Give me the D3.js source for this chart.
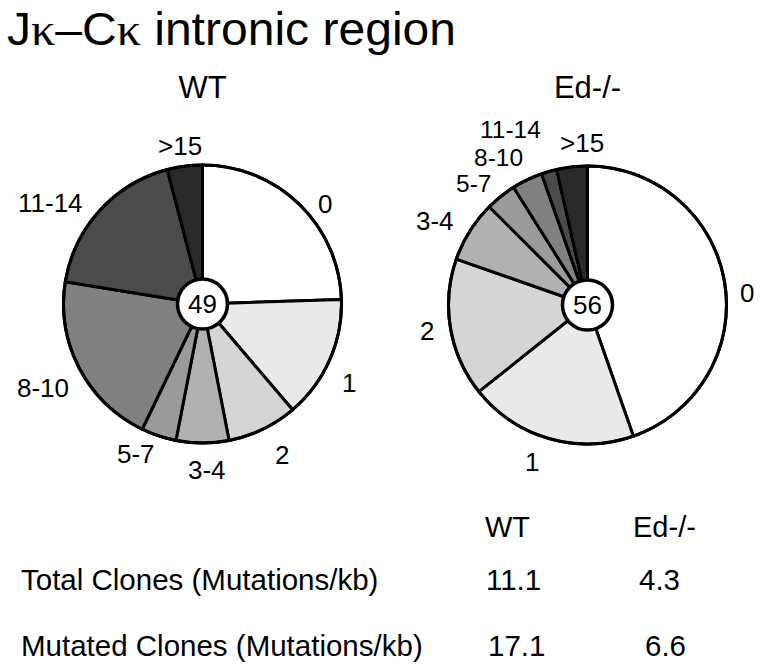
<!DOCTYPE html>
<html>
<head>
<meta charset="utf-8">
<script src="https://cdn.jsdelivr.net/npm/d3@7"></script>
<style>
  body { margin: 0; background: #fff; }
  text { font-family: "Liberation Sans", Arial, sans-serif; fill: #000; }
</style>
</head>
<body>
<script>
var categories = ['0', '1', '2', '3-4', '5-7', '8-10', '11-14', '>15'];
var wtCounts = [12, 7, 4, 3, 2, 10, 9, 2];
var edCounts = [25, 11, 9, 4, 2, 2, 1, 2];
var groupNames = ['WT', 'Ed-/-'];
var rowLabels = ['Total Clones (Mutations/kb)', 'Mutated Clones (Mutations/kb)'];
var wtRates = ['11.1', '17.1'];
var edRates = ['4.3', '6.6'];

var shades = ['#ffffff', '#e9e9e9', '#d5d5d5', '#b1b1b1', '#9a9a9a', '#808080', '#4b4b4b', '#292929'];

var w = 760;
var h = 669;
var r = 139;

// label spots (x, baseline) for each slice, per pie
var wtLabelPos = [[318, 213], [342, 392], [275, 464], [188, 479], [117, 463], [17, 397], [18, 212], [158, 155]];
var edLabelPos = [[740, 302], [525, 471], [420, 340], [416, 230], [456, 192], [474, 166], [480, 138], [560, 152]];

var svg = d3.select("body")
    .append("svg")
    .attr("width", w)
    .attr("height", h);

var title = svg.append("text")
    .attr("x", 7)
    .attr("y", 45)
    .attr("font-size", "46px")
    .attr("textLength", 449)
    .attr("lengthAdjust", "spacingAndGlyphs");
title.append("tspan").text("J");
title.append("tspan").attr("font-family", "Liberation Serif").text("\u03ba");
title.append("tspan").text("\u2013C");
title.append("tspan").attr("font-family", "Liberation Serif").text("\u03ba");
title.append("tspan").text(" intronic region");

var color = d3.scaleOrdinal()
    .domain(categories)
    .range(shades);

var pie = d3.pie()
    .sort(null)
    .value(function(d) { return d; });

var arc = d3.arc()
    .innerRadius(0)
    .outerRadius(r);

function drawPie(counts, cx, cy, name, labelPos, labelSize) {
    var g = svg.append("g")
        .attr("transform", "translate(" + cx + "," + cy + ")");

    g.selectAll("path")
       .data(pie(counts))
       .enter()
       .append("path")
       .attr("d", arc)
       .attr("fill", function(d, i) { return color(categories[i]); })
       .attr("stroke", "#000")
       .attr("stroke-width", 3)
       .attr("stroke-linejoin", "round");

    g.append("circle")
       .attr("r", r)
       .attr("fill", "none")
       .attr("stroke", "#000")
       .attr("stroke-width", 3);

    g.append("circle")
       .attr("r", 25)
       .attr("fill", "#fff")
       .attr("stroke", "#000")
       .attr("stroke-width", 3.5);

    g.append("text")
       .attr("text-anchor", "middle")
       .attr("y", 9)
       .attr("font-size", "26px")
       .text(d3.sum(counts));

    svg.append("text")
       .attr("text-anchor", "middle")
       .attr("x", cx)
       .attr("y", 98)
       .attr("font-size", "31px")
       .text(name);

    svg.selectAll(null)
       .data(categories)
       .enter()
       .append("text")
       .attr("x", function(d, i) { return labelPos[i][0]; })
       .attr("y", function(d, i) { return labelPos[i][1]; })
       .attr("font-size", function(d, i) { return labelSize(i) + "px"; })
       .text(function(d) { return d; });
}

drawPie(wtCounts, 202.5, 304, groupNames[0], wtLabelPos, function() { return 26; });
// the stacked small-slice labels on Ed-/- sit very close, so a touch smaller
drawPie(edCounts, 587.5, 305, groupNames[1], edLabelPos, function(i) { return (i >= 4 && i <= 6) ? 24.5 : 26; });

// table under the pies
var rowY = [590, 656];

svg.append("text")
   .attr("x", 485).attr("y", 537)
   .attr("font-size", "29px")
   .text(groupNames[0]);
svg.append("text")
   .attr("x", 633).attr("y", 537)
   .attr("font-size", "29px")
   .text(groupNames[1]);

svg.selectAll(null)
   .data(rowLabels)
   .enter()
   .append("text")
   .attr("x", 21)
   .attr("y", function(d, i) { return rowY[i]; })
   .attr("font-size", "29.5px")
   .text(function(d) { return d; });

svg.selectAll(null)
   .data(wtRates)
   .enter()
   .append("text")
   .attr("x", function(d, i) { return [486, 488][i]; })
   .attr("y", function(d, i) { return rowY[i]; })
   .attr("font-size", "29.5px")
   .text(function(d) { return d; });

svg.selectAll(null)
   .data(edRates)
   .enter()
   .append("text")
   .attr("x", function(d, i) { return [639, 645][i]; })
   .attr("y", function(d, i) { return rowY[i]; })
   .attr("font-size", "29.5px")
   .text(function(d) { return d; });
</script>
</body>
</html>
